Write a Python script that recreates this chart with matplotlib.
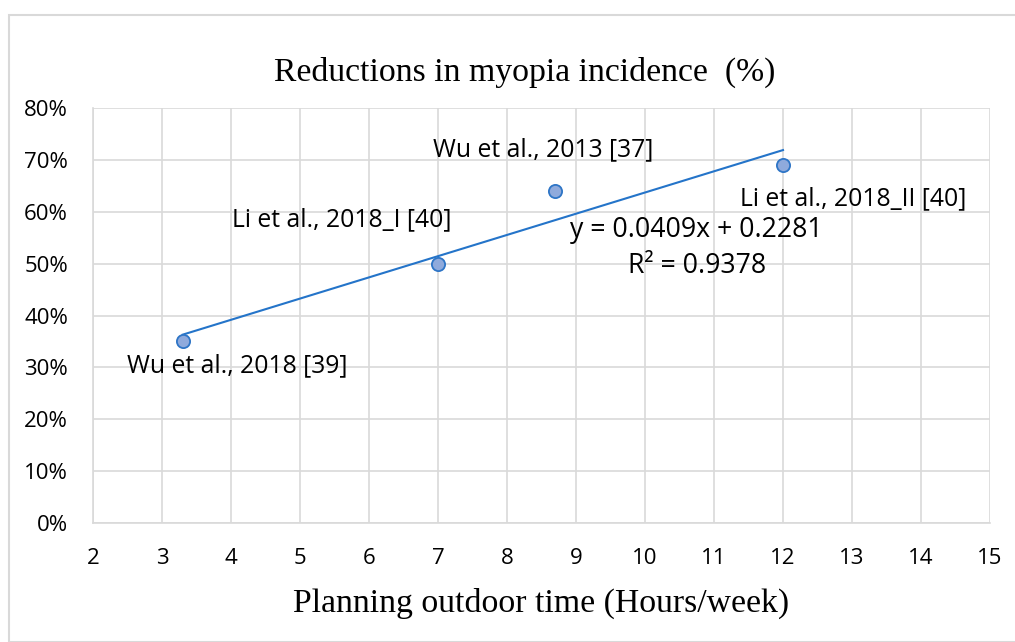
import numpy as np
import matplotlib
matplotlib.use('Agg')
import matplotlib.pyplot as plt
import matplotlib.ticker as ticker
from matplotlib.patches import Rectangle

# data
hours = [3.3, 7.0, 8.7, 12.0]
reduction = [0.35, 0.50, 0.64, 0.69]
labels = ['Wu et al., 2018 [39]', 'Li et al., 2018_I [40]',
          'Wu et al., 2013 [37]', 'Li et al., 2018_II [40]']
label_pos = [(4.09, 0.304), (5.60, 0.584), (8.53, 0.719), (13.01, 0.626)]
slope, intercept, r2 = 0.0409, 0.2281, 0.9378

sans = ['Open Sans', 'DejaVu Sans']
serif = ['Liberation Serif', 'DejaVu Serif']
grid_c = '#d9d9d9'

fig = plt.figure(figsize=(10.15, 6.42), dpi=100)
ax = fig.add_axes([93/1015, 1-523/642, (990-93)/1015, (523-108)/642])

# outer chart border
fig.patches.append(Rectangle((9/1015, 0), 1.2, 1-15/642, transform=fig.transFigure,
                             fill=False, edgecolor=grid_c, linewidth=1.5))

xs = np.array([min(hours), max(hours)])
ax.plot(xs, slope*xs + intercept, color='#2474c9', linewidth=1.5, zorder=3)
ax.plot(hours, reduction, 'o', markersize=9.5, markerfacecolor='#8faadc',
        markeredgecolor='#2e75c6', markeredgewidth=1.3, zorder=4)

for lab, (lx, ly) in zip(labels, label_pos):
    ax.text(lx, ly, lab, ha='center', va='center', fontsize=17.8, family=sans)

ax.text(10.75, 0.565, 'y = %.4fx + %.4f' % (slope, intercept), ha='center', va='center',
        fontsize=19.2, family=sans)
ax.text(10.75, 0.495, 'R² = %.4f' % r2, ha='center', va='center', fontsize=19.2, family=sans)

ax.set_xlim(2, 15)
ax.set_ylim(0, 0.8)
ax.xaxis.set_major_locator(ticker.MultipleLocator(1))
ax.yaxis.set_major_locator(ticker.MultipleLocator(0.1))
ax.yaxis.set_major_formatter(ticker.FuncFormatter(lambda v, p: '%d%%' % round(v*100)))
ax.grid(True, color=grid_c, linewidth=1.2)
ax.set_axisbelow(True)
for s in ['top', 'right']:
    ax.spines[s].set_visible(False)
for s in ['left', 'bottom']:
    ax.spines[s].set_color(grid_c)
    ax.spines[s].set_linewidth(1.2)
ax.tick_params(length=0, labelsize=16)
ax.tick_params(axis='x', pad=18)
ax.tick_params(axis='y', pad=18)
for t in ax.get_xticklabels() + ax.get_yticklabels():
    t.set_family(sans)

fig.text(525/1015, 1-72/642, 'Reductions in myopia incidence  (%)', ha='center', va='center',
         fontsize=24.3, family=serif)
fig.text(541/1015, 1-603/642, 'Planning outdoor time (Hours/week)', ha='center', va='center',
         fontsize=24.3, family=serif)

fig.savefig('out.png', dpi=100)
